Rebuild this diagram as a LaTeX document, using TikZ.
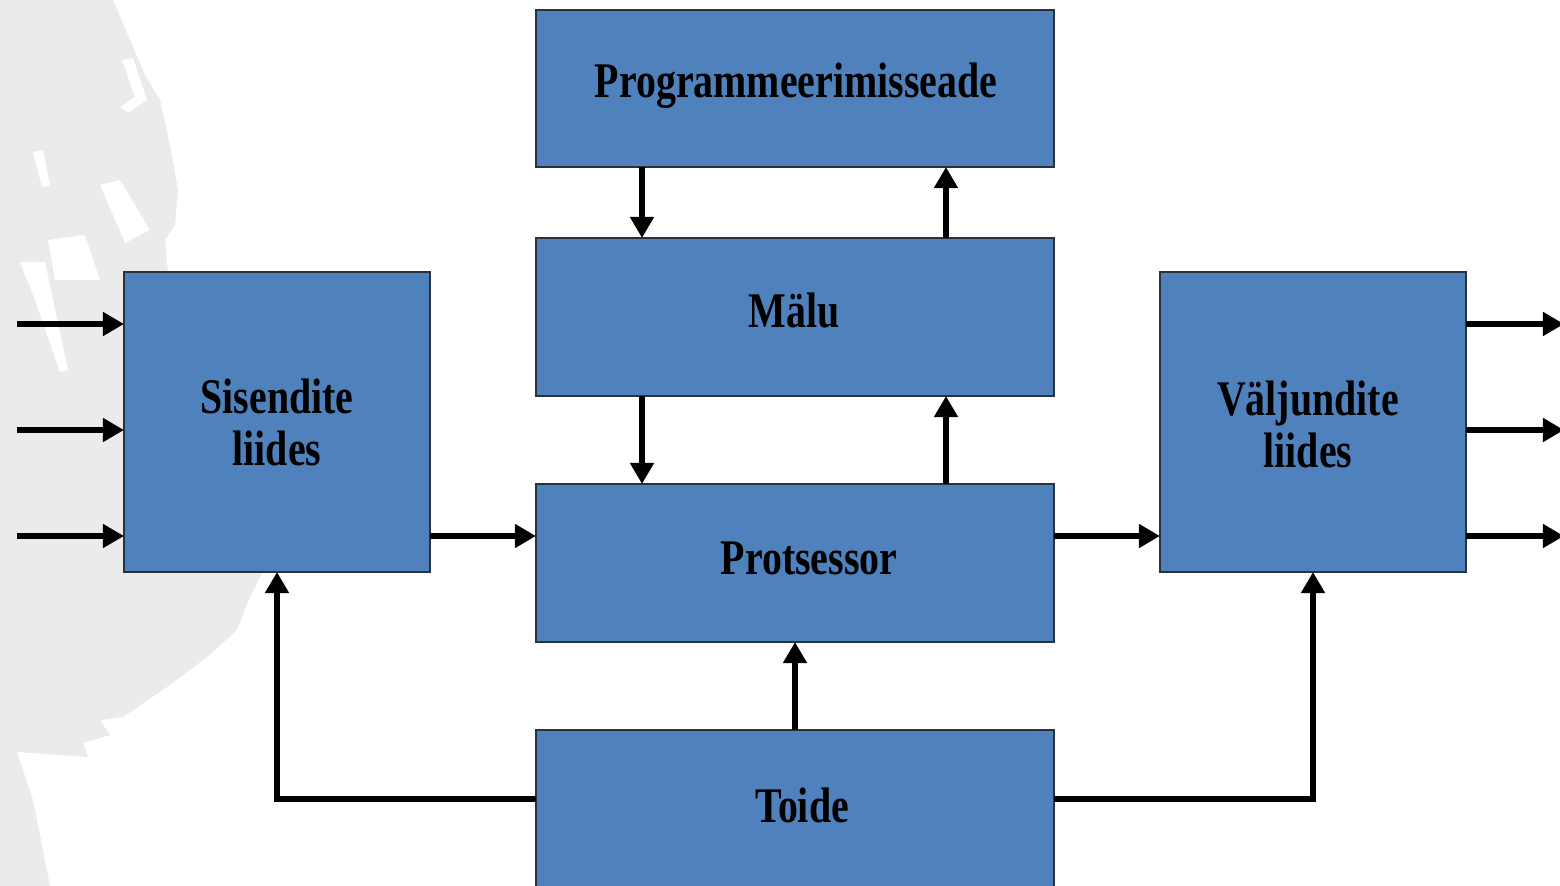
\documentclass[tikz,border=0pt]{standalone}
\usepackage{fontspec}
\usepackage{graphicx}
\setmainfont{Liberation Serif}
\usetikzlibrary{arrows.meta,calc}
\definecolor{boxblue}{RGB}{79,129,189}
\definecolor{boxedge}{RGB}{40,50,60}
\definecolor{mapgray}{RGB}{235,235,235}
\def\u{0.02cm}
\newcommand{\lbltext}[1]{\scalebox{1}[1.25]{\fontsize{22.7}{23.6}\selectfont\bfseries #1}}
\newcommand{\twolines}[2]{\scalebox{1}[1.25]{\fontsize{22.7}{23.6}\selectfont\bfseries\begin{tabular}{@{}c@{}}#1\\#2\end{tabular}}}
\tikzset{
  blk/.style={draw=boxedge, line width=0.8pt, fill=boxblue, inner sep=0pt, outer sep=0pt},
  lbl/.style={inner sep=0pt, outer sep=0pt},
  arr/.style={line width=3.8pt, -{Triangle[length=12pt,width=13pt]}},
  feed/.style={line width=3.8pt, -{Triangle[length=12pt,width=13pt]}}
}
\begin{document}
\begin{tikzpicture}[x=0.02cm,y=-0.02cm]
\useasboundingbox (0,0) rectangle (1560,886);
\fill[white] (0,0) rectangle (1560,886);
% background map shape
\fill[mapgray] (0,0) -- (113,0) -- (130,40) -- (145,75) -- (160,100) -- (170,145) -- (178,190) -- (175,225) -- (165,240) -- (168,272) -- (180,572) -- (262,573) -- (250,597) -- (237,630) -- (207,657) -- (167,687) -- (123,717) -- (100,720) -- (110,735) -- (83,743) -- (88,757) -- (17,752) -- (33,800) -- (50,886) -- (0,886) -- cycle;
\fill[white] (122,60) -- (133,58) -- (147,100) -- (128,113) -- (120,107) -- (135,97) -- cycle;
\fill[white] (33,152) -- (43,150) -- (50,185) -- (42,187) -- cycle;
\fill[white] (100,185) -- (120,180) -- (150,230) -- (125,243) -- cycle;
\fill[white] (48,240) -- (85,235) -- (100,280) -- (55,280) -- cycle;
\fill[white] (20,262) -- (45,262) -- (68,370) -- (60,372) -- (35,300) -- cycle;

% blocks
\node[blk, minimum width=518*\u, minimum height=157*\u] (prog)  at (795,88.5) {};
\node[blk, minimum width=518*\u, minimum height=158*\u] (malu)  at (795,317) {};
\node[blk, minimum width=518*\u, minimum height=158*\u] (prot)  at (795,563) {};
\node[blk, minimum width=518*\u, minimum height=158*\u] (toide) at (795,809) {};
\node[blk, minimum width=306*\u, minimum height=300*\u] (sisin) at (277,422) {};
\node[blk, minimum width=306*\u, minimum height=300*\u] (valj)  at (1313,422) {};

% labels
\node[lbl] (tprog)  at (796,86)  {\lbltext{Programmeerimisseade}};
\node[lbl] (tmalu)  at (794,311) {\lbltext{Mälu}};
\node[lbl] (tprot)  at (809,558) {\lbltext{Protsessor}};
\node[lbl] (ttoide) at (802,805) {\lbltext{Toide}};
\node[lbl] (tsis)   at (277,429) {\twolines{Sisendite}{liides}};
\node[lbl] (tvalj)  at (1308,431) {\twolines{Väljundite}{liides}};

% free ends
\coordinate (in1) at (17,324);
\coordinate (in2) at (17,430);
\coordinate (in3) at (17,536);
\coordinate (out1) at (1564,324);
\coordinate (out2) at (1564,430);
\coordinate (out3) at (1564,536);

% inputs
\draw[arr] (in1) -- (in1 -| sisin.west);
\draw[arr] (in2) -- (in2 -| sisin.west);
\draw[arr] (in3) -- (in3 -| sisin.west);
% outputs
\draw[arr] (out1 -| valj.east) -- (out1);
\draw[arr] (out2 -| valj.east) -- (out2);
\draw[arr] (out3 -| valj.east) -- (out3);
% data path
\draw[arr] (in3 -| sisin.east) -- (in3 -| prot.west);
\draw[arr] (in3 -| prot.east) -- (in3 -| valj.west);
% memory / programmer
\draw[arr] ([xshift=106*\u]prog.south west) -- ([xshift=106*\u]malu.north west);
\draw[arr] ([xshift=410*\u]malu.north west) -- ([xshift=410*\u]prog.south west);
\draw[arr] ([xshift=106*\u]malu.south west) -- ([xshift=106*\u]prot.north west);
\draw[arr] ([xshift=410*\u]prot.north west) -- ([xshift=410*\u]malu.south west);
% power
\draw[arr] (toide.north) -- (prot.south);
\draw[feed] ([yshift=10*\u]toide.west) -| (sisin.south);
\draw[feed] ([yshift=10*\u]toide.east) -| (valj.south);
\end{tikzpicture}
\end{document}
